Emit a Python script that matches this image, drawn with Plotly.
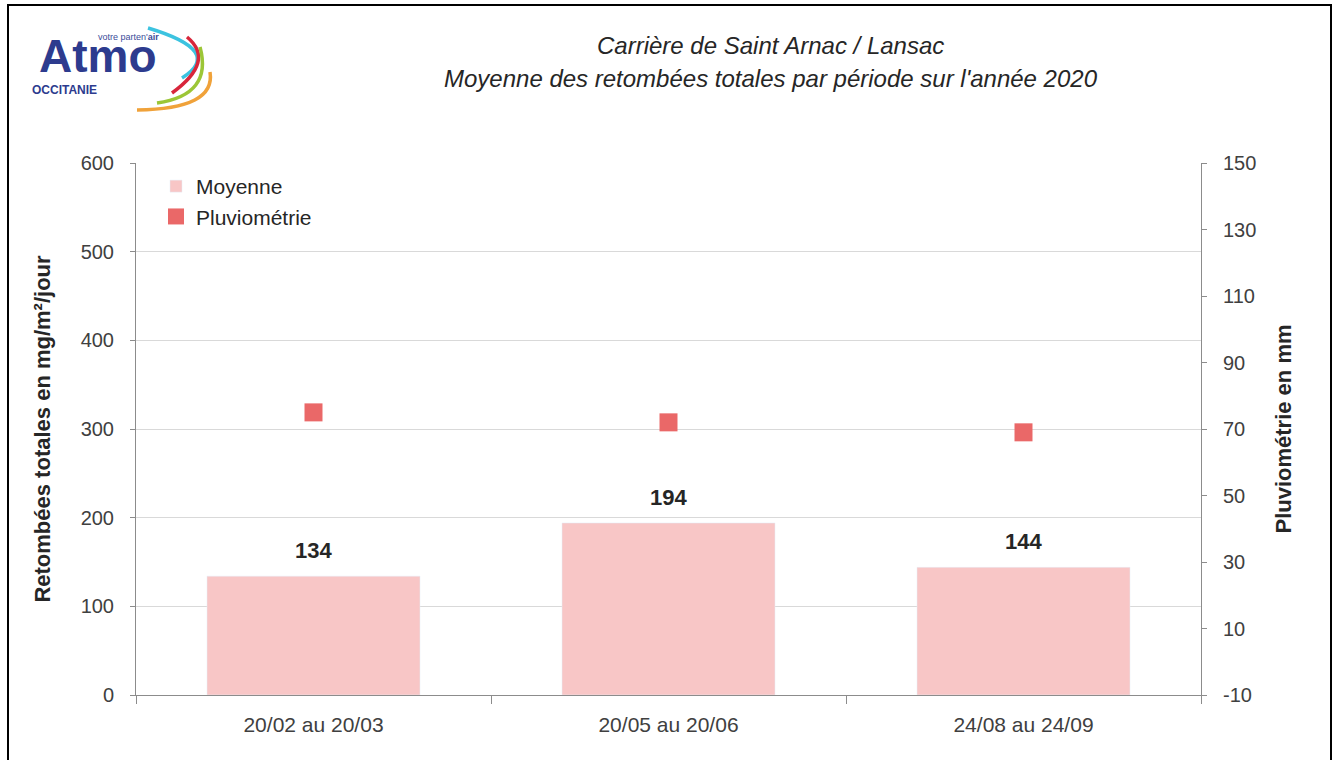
import plotly.graph_objects as go

categories = ["20/02 au 20/03", "20/05 au 20/06", "24/08 au 24/09"]
moyenne = [134, 194, 144]
pluvio = [75, 72, 69]

left_ticks = [0, 100, 200, 300, 400, 500, 600]
right_ticks = [-10, 10, 30, 50, 70, 90, 110, 130, 150]
right_ticktext = ["-10", "10", "30", "50", "70", "90", "110", "130", "150"]

title_lines = ["Carrière de Saint Arnac / Lansac",
               "Moyenne des retombées totales par période sur l'année 2020"]

W, H = 1336, 760
L, R, T, B = 136, 1201, 163, 695  # plot area in page pixels
FONT = "Liberation Sans Narrow, Arial Narrow, Liberation Sans, Arial, sans-serif"

def px(x):
    return (x - L) / (R - L)

def py(y):
    return (B - y) / (B - T)

fig = go.Figure()
fig.add_trace(go.Bar(
    x=categories, y=moyenne, name="Moyenne",
    marker=dict(color="#f8c6c6"), width=0.6,
    yaxis="y",
))
fig.add_trace(go.Scatter(
    x=categories, y=pluvio, name="Pluviométrie", mode="markers",
    marker=dict(symbol="square", size=18, color="#ea6868"),
    yaxis="y2",
))

annotations = []
for c, v in zip(categories, moyenne):
    annotations.append(dict(
        x=c, y=v, xref="x", yref="y", text="<b>%d</b>" % v, showarrow=False,
        yanchor="bottom", yshift=11,
        font=dict(family="Liberation Sans, Arial", size=22, color="#262626"),
    ))

for i, line in enumerate(title_lines):
    annotations.append(dict(
        x=px(771), y=py(45 + 33 * i), xref="paper", yref="paper",
        text="<i>%s</i>" % line, showarrow=False,
        xanchor="center", yanchor="middle",
        font=dict(family=FONT, size=24, color="#262626"),
    ))

# logo text
annotations += [
    dict(x=px(98), y=py(56), xref="paper", yref="paper", text="<b>Atmo</b>",
         showarrow=False, xanchor="center", yanchor="middle",
         font=dict(family="Liberation Sans, Arial", size=46, color="#2d3b8e")),
    dict(x=px(128), y=py(37), xref="paper", yref="paper",
         text="votre parten'<b>air</b>", showarrow=False,
         xanchor="center", yanchor="middle",
         font=dict(family="Liberation Sans, Arial", size=9, color="#3b4c9a")),
    dict(x=px(64), y=py(90), xref="paper", yref="paper", text="<b>OCCITANIE</b>",
         showarrow=False, xanchor="center", yanchor="middle",
         font=dict(family="Liberation Sans, Arial", size=12, color="#2d3b8e")),
]

def qpath(p0, c, p1):
    return "M %f,%f Q %f,%f %f,%f" % (px(p0[0]), py(p0[1]), px(c[0]), py(c[1]),
                                      px(p1[0]), py(p1[1]))

shapes = [
    dict(type="rect", xref="paper", yref="paper",
         x0=px(8), x1=px(1331), y0=py(790), y1=py(5),
         line=dict(color="#000000", width=2), fillcolor="rgba(0,0,0,0)"),
    dict(type="path", xref="paper", yref="paper",
         path=qpath((148, 28), (225, 51), (182, 78)),
         line=dict(color="#3cc3e0", width=3.5)),
    dict(type="path", xref="paper", yref="paper",
         path=qpath((187, 37), (216, 61), (172, 93)),
         line=dict(color="#d8263b", width=3.5)),
    dict(type="path", xref="paper", yref="paper",
         path=qpath((200, 47), (213, 95), (157, 103)),
         line=dict(color="#9cc637", width=3.5)),
    dict(type="path", xref="paper", yref="paper",
         path=qpath((210, 72), (216, 109), (137, 110)),
         line=dict(color="#f0a23a", width=3.5)),
]

axis_font = dict(family=FONT, size=20, color="#404040")

fig.update_layout(
    width=W, height=H,
    margin=dict(l=L, r=W - R, t=T, b=H - B, pad=0),
    paper_bgcolor="white", plot_bgcolor="white",
    showlegend=True,
    legend=dict(x=px(156), y=py(166), xanchor="left", yanchor="top",
                font=dict(family=FONT, size=21, color="#262626"),
                bgcolor="rgba(0,0,0,0)", itemwidth=30),
    xaxis=dict(
        type="category", tickfont=dict(family=FONT, size=21, color="#404040"),
        showgrid=False,
        showline=True, linecolor="#8c8c8c", linewidth=1,
        ticks="outside", ticklen=8, tickcolor="#8c8c8c", tickson="boundaries",
        ticklabelstandoff=11,
        range=[-0.5, 2.5],
    ),
    yaxis=dict(
        range=[0, 600], tickvals=left_ticks, tickfont=axis_font,
        showgrid=True, gridcolor="#d9d9d9", gridwidth=1,
        showline=True, linecolor="#8c8c8c", linewidth=1,
        ticks="outside", ticklen=5, tickcolor="#8c8c8c",
        ticklabelstandoff=12,
        zeroline=False,
        title=dict(text="<b>Retombées totales en mg/m²/jour</b>",
                   font=dict(family=FONT, size=22, color="#262626"), standoff=23),
    ),
    yaxis2=dict(
        range=[-10, 150], tickvals=right_ticks, ticktext=right_ticktext,
        overlaying="y", side="right",
        tickfont=axis_font, showgrid=False, zeroline=False,
        showline=True, linecolor="#8c8c8c", linewidth=1,
        ticks="outside", ticklen=5, tickcolor="#8c8c8c",
        ticklabelstandoff=12,
        title=dict(text="<b>Pluviométrie en mm</b>",
                   font=dict(family=FONT, size=22, color="#262626"), standoff=20),
    ),
    annotations=annotations,
    shapes=shapes,
    bargap=0.4,
)

fig.write_html(
    "out.html",
    config={"displayModeBar": False},
    post_script="document.body.style.margin='0';document.body.style.overflow='hidden';",
)
